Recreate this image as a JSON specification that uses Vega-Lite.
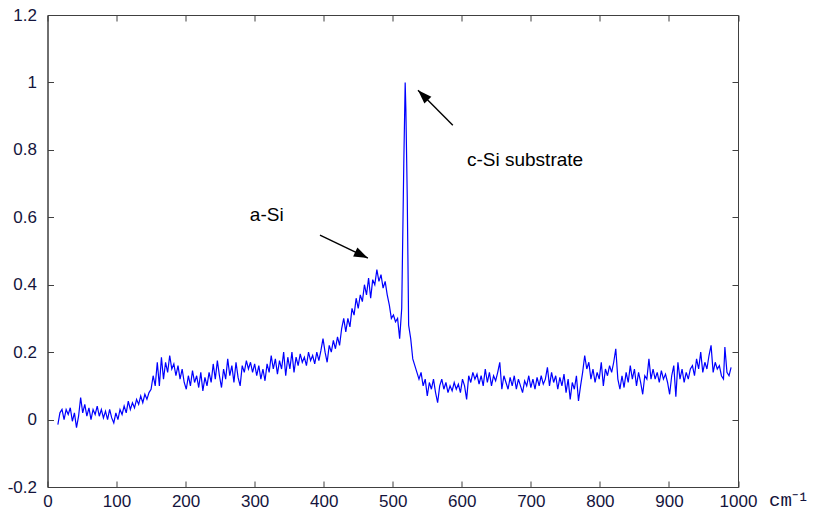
{
  "$schema": "https://vega.github.io/schema/vega-lite/v6.json",
  "width": 690.5,
  "height": 472,
  "autosize": {"type": "none"},
  "padding": {"left": 47.5, "top": 15, "right": 78, "bottom": 29},
  "background": "white",
  "config": {
    "view": {"stroke": "#404040", "strokeWidth": 1},
    "axis": {"grid": false, "domainColor": "#404040", "tickColor": "#404040", "labelFont": "Liberation Sans", "labelFontSize": 17, "labelColor": "#14143c"}
  },
  "datasets": {
    "spectrum": [
      {"x":15,"y":-0.015},{"x":18,"y":0.02},{"x":21,"y":0.03},{"x":24,"y":0.0},{"x":27,"y":0.03},{"x":30,"y":0.015},{"x":33,"y":0.035},{"x":36,"y":-0.005},{"x":39,"y":0.02},{"x":42,"y":-0.024},
      {"x":45,"y":0.01},{"x":48,"y":0.065},{"x":51,"y":0.02},{"x":54,"y":0.045},{"x":57,"y":0.01},{"x":60,"y":0.035},{"x":63,"y":0.0},{"x":66,"y":0.03},{"x":69,"y":0.015},{"x":72,"y":0.04},
      {"x":75,"y":0.01},{"x":78,"y":0.03},{"x":81,"y":0.005},{"x":84,"y":0.025},{"x":87,"y":0.0},{"x":90,"y":0.03},{"x":93,"y":0.005},{"x":96,"y":-0.01},{"x":99,"y":0.02},{"x":102,"y":0.0},
      {"x":105,"y":0.03},{"x":108,"y":0.015},{"x":111,"y":0.04},{"x":114,"y":0.02},{"x":117,"y":0.055},{"x":120,"y":0.03},{"x":123,"y":0.05},{"x":126,"y":0.035},{"x":129,"y":0.06},{"x":132,"y":0.045},
      {"x":135,"y":0.07},{"x":138,"y":0.05},{"x":141,"y":0.075},{"x":144,"y":0.06},{"x":147,"y":0.08},{"x":150,"y":0.09},{"x":153,"y":0.13},{"x":156,"y":0.1},{"x":159,"y":0.17},{"x":162,"y":0.1},
      {"x":165,"y":0.185},{"x":168,"y":0.12},{"x":171,"y":0.17},{"x":174,"y":0.14},{"x":177,"y":0.19},{"x":180,"y":0.15},{"x":183,"y":0.165},{"x":186,"y":0.13},{"x":189,"y":0.16},{"x":192,"y":0.12},
      {"x":195,"y":0.15},{"x":198,"y":0.11},{"x":201,"y":0.09},{"x":204,"y":0.13},{"x":207,"y":0.1},{"x":210,"y":0.145},{"x":213,"y":0.11},{"x":216,"y":0.13},{"x":219,"y":0.095},{"x":222,"y":0.14},
      {"x":225,"y":0.085},{"x":228,"y":0.125},{"x":231,"y":0.1},{"x":234,"y":0.14},{"x":237,"y":0.11},{"x":240,"y":0.165},{"x":243,"y":0.12},{"x":246,"y":0.175},{"x":249,"y":0.13},{"x":252,"y":0.095},
      {"x":255,"y":0.15},{"x":258,"y":0.12},{"x":261,"y":0.18},{"x":264,"y":0.13},{"x":267,"y":0.16},{"x":270,"y":0.11},{"x":273,"y":0.17},{"x":276,"y":0.125},{"x":279,"y":0.1},{"x":282,"y":0.16},
      {"x":285,"y":0.14},{"x":288,"y":0.175},{"x":291,"y":0.15},{"x":294,"y":0.17},{"x":297,"y":0.14},{"x":300,"y":0.165},{"x":303,"y":0.13},{"x":306,"y":0.16},{"x":309,"y":0.12},{"x":312,"y":0.15},
      {"x":315,"y":0.115},{"x":318,"y":0.165},{"x":321,"y":0.14},{"x":324,"y":0.19},{"x":327,"y":0.15},{"x":330,"y":0.18},{"x":333,"y":0.135},{"x":336,"y":0.175},{"x":339,"y":0.15},{"x":342,"y":0.2},
      {"x":345,"y":0.13},{"x":348,"y":0.185},{"x":351,"y":0.15},{"x":354,"y":0.2},{"x":357,"y":0.14},{"x":360,"y":0.185},{"x":363,"y":0.16},{"x":366,"y":0.195},{"x":369,"y":0.17},{"x":372,"y":0.185},
      {"x":375,"y":0.16},{"x":378,"y":0.2},{"x":381,"y":0.175},{"x":384,"y":0.19},{"x":387,"y":0.165},{"x":390,"y":0.2},{"x":393,"y":0.175},{"x":396,"y":0.205},{"x":399,"y":0.24},{"x":402,"y":0.2},
      {"x":405,"y":0.17},{"x":408,"y":0.22},{"x":411,"y":0.2},{"x":414,"y":0.235},{"x":417,"y":0.21},{"x":420,"y":0.245},{"x":423,"y":0.22},{"x":426,"y":0.27},{"x":429,"y":0.3},{"x":432,"y":0.26},
      {"x":435,"y":0.3},{"x":438,"y":0.275},{"x":441,"y":0.33},{"x":444,"y":0.31},{"x":447,"y":0.36},{"x":450,"y":0.33},{"x":453,"y":0.37},{"x":456,"y":0.35},{"x":459,"y":0.4},{"x":462,"y":0.37},
      {"x":465,"y":0.42},{"x":468,"y":0.36},{"x":471,"y":0.415},{"x":474,"y":0.4},{"x":477,"y":0.445},{"x":480,"y":0.41},{"x":483,"y":0.43},{"x":486,"y":0.39},{"x":489,"y":0.41},{"x":492,"y":0.37},
      {"x":495,"y":0.34},{"x":498,"y":0.3},{"x":501,"y":0.31},{"x":504,"y":0.29},{"x":507,"y":0.3},{"x":510,"y":0.24},{"x":513,"y":0.33},{"x":516,"y":0.76},{"x":518,"y":1.0},{"x":519,"y":0.92},
      {"x":521,"y":0.66},{"x":523,"y":0.28},{"x":526,"y":0.24},{"x":529,"y":0.18},{"x":532,"y":0.16},{"x":535,"y":0.14},{"x":538,"y":0.12},{"x":541,"y":0.14},{"x":544,"y":0.1},{"x":547,"y":0.12},
      {"x":550,"y":0.07},{"x":553,"y":0.11},{"x":556,"y":0.09},{"x":559,"y":0.12},{"x":562,"y":0.08},{"x":565,"y":0.05},{"x":568,"y":0.1},{"x":571,"y":0.12},{"x":574,"y":0.09},{"x":577,"y":0.11},
      {"x":580,"y":0.08},{"x":583,"y":0.1},{"x":586,"y":0.085},{"x":589,"y":0.11},{"x":592,"y":0.09},{"x":595,"y":0.105},{"x":598,"y":0.08},{"x":601,"y":0.12},{"x":604,"y":0.1},{"x":607,"y":0.06},
      {"x":610,"y":0.13},{"x":613,"y":0.11},{"x":616,"y":0.14},{"x":619,"y":0.12},{"x":622,"y":0.135},{"x":625,"y":0.105},{"x":628,"y":0.13},{"x":631,"y":0.1},{"x":634,"y":0.15},{"x":637,"y":0.11},
      {"x":640,"y":0.14},{"x":643,"y":0.1},{"x":646,"y":0.13},{"x":649,"y":0.115},{"x":652,"y":0.14},{"x":655,"y":0.17},{"x":658,"y":0.09},{"x":661,"y":0.13},{"x":664,"y":0.11},{"x":667,"y":0.09},
      {"x":670,"y":0.125},{"x":673,"y":0.1},{"x":676,"y":0.13},{"x":679,"y":0.09},{"x":682,"y":0.12},{"x":685,"y":0.1},{"x":688,"y":0.08},{"x":691,"y":0.115},{"x":694,"y":0.1},{"x":697,"y":0.13},
      {"x":700,"y":0.095},{"x":703,"y":0.12},{"x":706,"y":0.09},{"x":709,"y":0.125},{"x":712,"y":0.1},{"x":715,"y":0.13},{"x":718,"y":0.105},{"x":721,"y":0.12},{"x":724,"y":0.155},{"x":727,"y":0.1},
      {"x":730,"y":0.14},{"x":733,"y":0.11},{"x":736,"y":0.13},{"x":739,"y":0.09},{"x":742,"y":0.125},{"x":745,"y":0.1},{"x":748,"y":0.135},{"x":751,"y":0.08},{"x":754,"y":0.12},{"x":757,"y":0.06},
      {"x":760,"y":0.11},{"x":763,"y":0.09},{"x":766,"y":0.13},{"x":769,"y":0.055},{"x":772,"y":0.1},{"x":775,"y":0.14},{"x":778,"y":0.19},{"x":781,"y":0.15},{"x":784,"y":0.17},{"x":787,"y":0.12},
      {"x":790,"y":0.15},{"x":793,"y":0.11},{"x":796,"y":0.14},{"x":799,"y":0.12},{"x":802,"y":0.17},{"x":805,"y":0.1},{"x":808,"y":0.15},{"x":811,"y":0.13},{"x":814,"y":0.16},{"x":817,"y":0.14},
      {"x":820,"y":0.17},{"x":823,"y":0.21},{"x":826,"y":0.12},{"x":829,"y":0.09},{"x":832,"y":0.13},{"x":835,"y":0.095},{"x":838,"y":0.14},{"x":841,"y":0.11},{"x":844,"y":0.16},{"x":847,"y":0.12},
      {"x":850,"y":0.15},{"x":853,"y":0.1},{"x":856,"y":0.14},{"x":859,"y":0.11},{"x":862,"y":0.075},{"x":865,"y":0.13},{"x":868,"y":0.12},{"x":871,"y":0.18},{"x":874,"y":0.12},{"x":877,"y":0.15},
      {"x":880,"y":0.12},{"x":883,"y":0.14},{"x":886,"y":0.11},{"x":889,"y":0.145},{"x":892,"y":0.12},{"x":895,"y":0.135},{"x":898,"y":0.11},{"x":901,"y":0.075},{"x":904,"y":0.13},{"x":907,"y":0.16},
      {"x":910,"y":0.068},{"x":913,"y":0.17},{"x":916,"y":0.12},{"x":919,"y":0.15},{"x":922,"y":0.11},{"x":925,"y":0.14},{"x":928,"y":0.12},{"x":931,"y":0.15},{"x":934,"y":0.16},{"x":937,"y":0.13},
      {"x":940,"y":0.18},{"x":943,"y":0.15},{"x":946,"y":0.2},{"x":949,"y":0.14},{"x":952,"y":0.17},{"x":955,"y":0.15},{"x":958,"y":0.19},{"x":961,"y":0.22},{"x":964,"y":0.14},{"x":967,"y":0.17},
      {"x":970,"y":0.15},{"x":973,"y":0.16},{"x":976,"y":0.13},{"x":979,"y":0.12},{"x":981,"y":0.215},{"x":984,"y":0.14},{"x":987,"y":0.13},{"x":990,"y":0.155}
    ],
    "arrows": [
      {"x":394.6,"y":0.547,"x2":464,"y2":0.479,"angle":115.7},
      {"x":587,"y":0.873,"x2":536.6,"y2":0.977,"angle":315.2}
    ],
    "labels": [
      {"x":293,"y":0.607,"text":"a-Si"},
      {"x":607.5,"y":0.77,"text":"c-Si substrate"}
    ]
  },
  "layer": [
    {
      "data": {"name": "spectrum"},
      "mark": {"type": "line", "color": "#0000ff", "strokeWidth": 1.2, "interpolate": "linear"},
      "encoding": {
        "x": {"field": "x", "type": "quantitative", "scale": {"domain": [0, 1000], "nice": false, "zero": false},
          "axis": {"orient": "bottom", "title": "cm⁻¹", "titleFont": "Liberation Mono", "titleFontSize": 19, "titleFontWeight": "normal", "titleColor": "#14143c", "titleAnchor": "start", "titleAlign": "left", "titleBaseline": "alphabetic", "titleX": 721, "titleY": 18, "values": [0,100,200,300,400,500,600,700,800,900,1000], "format": "d", "tickSize": -6, "labelPadding": 12, "labelFlush": false, "labelOverlap": false}},
        "y": {"field": "y", "type": "quantitative", "scale": {"domain": [-0.2, 1.2], "nice": false, "zero": false},
          "axis": {"orient": "left", "title": null, "values": [-0.2,0,0.2,0.4,0.6,0.8,1,1.2], "format": "~g", "tickSize": -6, "labelPadding": 17, "labelFlush": false, "labelOverlap": false, "labelExpr": "replace(datum.label, '−', '-')"}}
      }
    },
    {
      "data": {"name": "arrows"},
      "mark": {"type": "rule", "color": "black", "strokeWidth": 1.4},
      "encoding": {
        "x": {"field": "x", "type": "quantitative", "axis": {"orient": "top", "title": null, "labels": false, "domain": false, "values": [0,100,200,300,400,500,600,700,800,900,1000], "tickSize": -6}},
        "y": {"field": "y", "type": "quantitative", "axis": {"orient": "right", "title": null, "labels": false, "domain": false, "values": [-0.2,0,0.2,0.4,0.6,0.8,1,1.2], "tickSize": -6}},
        "x2": {"field": "x2"},
        "y2": {"field": "y2"}
      }
    },
    {
      "data": {"name": "arrows"},
      "mark": {"type": "point", "shape": "M0,0L-0.7,2L0.7,2Z", "filled": true, "color": "black", "opacity": 1, "size": 196, "strokeWidth": 0},
      "encoding": {
        "x": {"field": "x2", "type": "quantitative", "axis": null},
        "y": {"field": "y2", "type": "quantitative", "axis": null},
        "angle": {"field": "angle", "type": "quantitative", "scale": null}
      }
    },
    {
      "data": {"name": "labels"},
      "mark": {"type": "text", "font": "Liberation Sans", "fontSize": 19, "color": "black", "baseline": "middle", "align": "left"},
      "encoding": {
        "x": {"field": "x", "type": "quantitative", "axis": null},
        "y": {"field": "y", "type": "quantitative", "axis": null},
        "text": {"field": "text"}
      }
    }
  ],
  "resolve": {"axis": {"x": "independent", "y": "independent"}}
}
